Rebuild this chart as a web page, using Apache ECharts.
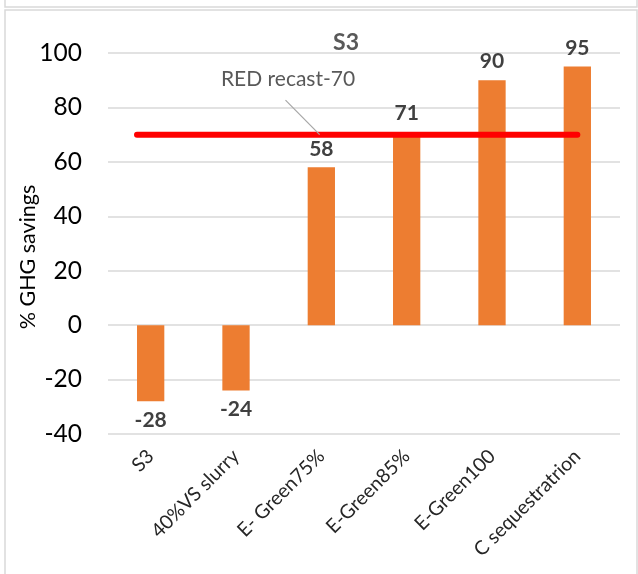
<!DOCTYPE html>
<html><head><meta charset="utf-8">
<script src="https://cdn.jsdelivr.net/npm/echarts@6/dist/echarts.min.js"></script>
<style>html,body{margin:0;padding:0;background:#fff}#c{width:638px;height:574px}</style>
</head><body><div id="c"></div>
<script>
const categories = ['S3', '40%VS slurry', 'E- Green75%', 'E-Green85%', 'E-Green100', 'C sequestratrion'];
const savings = [-28, -24, 58, 71, 90, 95];
const yTicks = [-40, -20, 0, 20, 40, 60, 80, 100];
const yAxisName = '% GHG savings';
const redLineValue = 70;
const redLineX = [-0.16, 5];
const redLineLabel = 'RED recast-70';

const chart = echarts.init(document.getElementById('c'));
const FONT = 'Lato';
chart.setOption({
  animation: false,
  textStyle: { fontFamily: FONT },
  title: { text: 'S3', left: 341, top: 26, textAlign: 'center',
    textStyle: { fontFamily: FONT, fontSize: 23, fontWeight: 'bold', color: '#595959' } },
  grid: { left: 108, right: 18, top: 53, bottom: 140 },
  xAxis: [{
    type: 'category', data: categories,
    axisLine: { show: false }, axisTick: { show: false },
    axisLabel: { rotate: 45, interval: 0, fontSize: 19.5, color: '#262626', margin: 19, fontFamily: FONT }
  }, {
    type: 'value', min: -0.5, max: 5.5, show: false
  }],
  yAxis: {
    type: 'value', min: yTicks[0], max: yTicks[yTicks.length - 1], interval: 20,
    axisLine: { show: false }, axisTick: { show: false },
    axisLabel: { fontSize: 24.5, color: '#000', margin: 26, fontFamily: FONT },
    splitLine: { lineStyle: { color: '#D9D9D9', width: 1.5 } }
  },
  series: [{
    type: 'bar', xAxisIndex: 0, barWidth: '32%',
    data: savings.map(v => ({ value: v, label: { position: v < 0 ? 'bottom' : 'top' } })),
    itemStyle: { color: '#ED7D31' },
    label: { show: true, fontSize: 21, fontWeight: 'bold', color: '#404040', distance: 8, fontFamily: FONT }
  }, {
    type: 'line', xAxisIndex: 1, symbol: 'none',
    data: [[redLineX[0], redLineValue], [redLineX[1], redLineValue]],
    lineStyle: { color: '#FF0000', width: 6, cap: 'round' },
    z: 5
  }],
  graphic: [{
    type: 'rect', shape: { x: 5, y: 10, width: 632, height: 570 },
    style: { fill: 'none', stroke: '#D9D9D9', lineWidth: 1.5 }, silent: true
  }, {
    type: 'rect', shape: { x: 5, y: -10, width: 632, height: 17 },
    style: { fill: 'none', stroke: '#D9D9D9', lineWidth: 1.5 }, silent: true
  }, {
    type: 'text', x: 28, y: 257, rotation: Math.PI / 2, silent: true,
    style: { text: yAxisName, fontSize: 21.5, fill: '#000', fontFamily: FONT, align: 'center', verticalAlign: 'middle' }
  }]
});

// leader label placed via axis conversion
const anchor = chart.convertToPixel({ xAxisIndex: 1, yAxisIndex: 0 }, [1.98, redLineValue]);
const start = chart.convertToPixel({ xAxisIndex: 1, yAxisIndex: 0 }, [1.58, 82.7]);
const txt = chart.convertToPixel({ xAxisIndex: 1, yAxisIndex: 0 }, [1.61, 90.4]);
chart.setOption({ graphic: [{}, {}, {}, {
  type: 'line', shape: { x1: start[0], y1: start[1], x2: anchor[0], y2: anchor[1] },
  style: { stroke: '#A6A6A6', lineWidth: 1.2 }, z: 10, silent: true
}, {
  type: 'text', x: txt[0], y: txt[1], z: 10,
  style: { text: redLineLabel, fontSize: 21, fill: '#595959', fontFamily: FONT, align: 'center', verticalAlign: 'middle' }
}] });
</script></body></html>
